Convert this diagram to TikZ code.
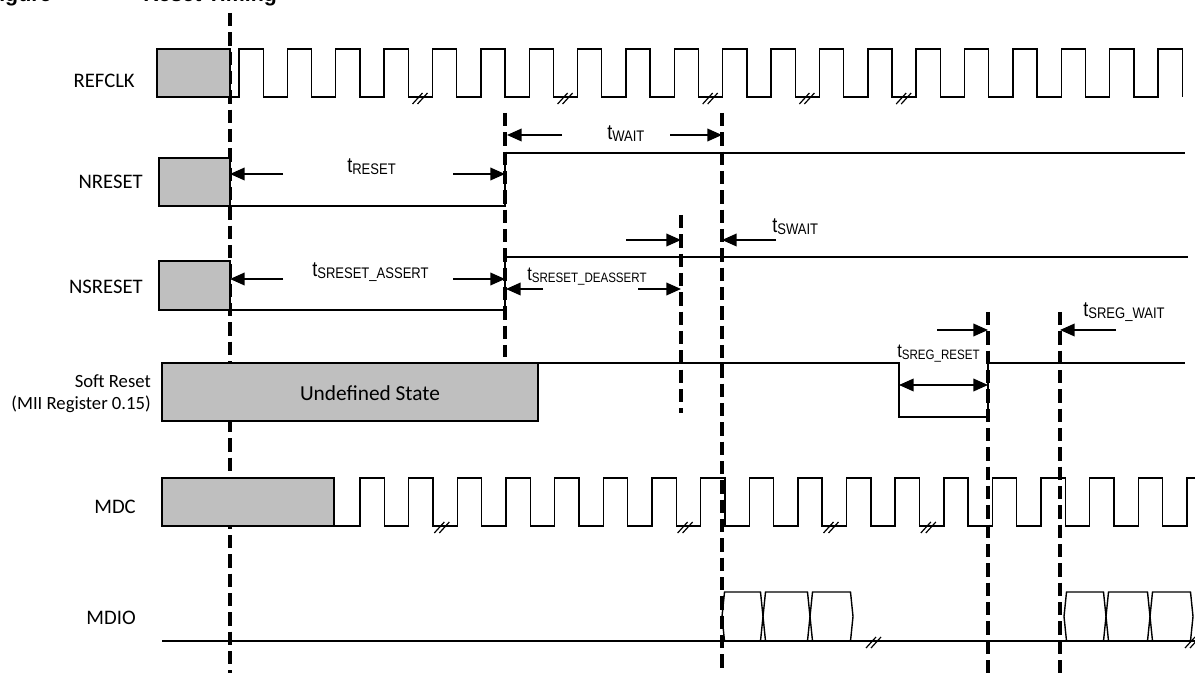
\documentclass[tikz,border=0pt]{standalone}
\usepackage{fontspec}
\usepackage{tikz}
\usetikzlibrary{arrows.meta}
\newfontfamily\lblfont{Carlito}
\newfontfamily\tfont[FakeStretch=0.85]{Liberation Sans}
\newfontfamily\ttlfont{Liberation Sans}

% timing parameter label: big t with lowered small text (sizes in pt)
\newcommand{\tlab}[3]{{\tfont\fontsize{#1}{#1}\selectfont t\raisebox{-1pt}{\fontsize{#2}{#2}\selectfont #3}}}
% break mark on a waveform
\newcommand{\tdbreak}[2]{\draw[line width=0.9pt] ({#1-8},{#2+6}) -- ({#1+2},{#2-5}) ({#1-3},{#2+6}) -- ({#1+7},{#2-5});}
% one MDIO data cell
\newcommand{\tdcell}[2]{\draw[sig] (#1,616.5) -- ({#1+2.5},592) -- ({#2-2.5},592) -- (#2,616.5) -- ({#2-2.5},641) -- ({#1+2.5},641) -- cycle;}

\tikzset{
  sig/.style={line width=1.05pt},
  graybox/.style={line width=1.05pt, fill=black!25},
  tline/.style={line width=2.3pt, dash pattern=on 10pt off 4.5pt},
  tarrow/.style={line width=1.2pt, -{Triangle[length=11pt,width=9.5pt]}},
  tboth/.style={line width=1.2pt, {Triangle[length=11pt,width=9.5pt]}-{Triangle[length=11pt,width=9.5pt]}},
  signame/.style={font=\lblfont\fontsize{15.5}{16}\selectfont, anchor=east, inner sep=0pt},
  tname/.style={anchor=base west, inner sep=0pt},
}

\begin{document}
\begin{tikzpicture}[x=0.75pt, y=-0.75pt]
    \useasboundingbox (0,0) rectangle (1195,673);

    % Title, cut by the top edge
    \node[tname, font=\ttlfont\bfseries\fontsize{16}{16}\selectfont] (ttlfig) at (-14,2) {Figure};
    \node[tname, font=\ttlfont\bfseries\fontsize{16}{16}\selectfont] (ttlname) at (143,2) {Reset Timing};

    % Timing markers
    \draw[tline] (230,13) -- (230,673);
    \draw[tline] (505,113) -- (505,357);
    \draw[tline] (681,215) -- (681,413);
    \draw[tline] (722,113) -- (722,673);
    \draw[tline] (988,312) -- (988,673);
    \draw[tline] (1060,312) -- (1060,673);

    % Signal names
    \node[signame] (nrefclk) at (135,81) {REFCLK};
    \node[signame] (nnreset) at (143,182) {NRESET};
    \node[signame] (nnsreset) at (143,287) {NSRESET};
    \node[signame, font=\lblfont\fontsize{14}{16.5}\selectfont, align=right] (nsoft) at (151,394) {Soft Reset\\(MII Register 0.15)};
    \node[signame] (nmdc) at (136,507) {MDC};
    \node[signame] (nmdio) at (136,618) {MDIO};

    % REFCLK
    \draw[graybox] (157,49) rectangle (230,97);
    \draw[sig] (230,97) \foreach \k in {0,...,19}{ -- ({239+\k*48.37},97) -- ++(0,-48) -- ++(24.2,0) -- ++(0,48) };
    \foreach \c in {432.5,577.6,722.7,819.4,916.2} {\tdbreak{\c-12}{98}}

    % NRESET
    \draw[graybox] (159,158) rectangle (230,206);
    \draw[sig] (230,206) -- (505,206) -- (505,153) -- (1185,153);
    \draw[tarrow] (283,174) -- (230,174);
    \draw[tarrow] (453,174) -- (505,174);
    \node[tname] (lreset) at (347,173) {\tlab{16}{11.5}{RESET}};
    \draw[tarrow] (562,135) -- (507,135);
    \draw[tarrow] (670,135) -- (722,135);
    \node[tname] (lwait) at (607,140) {\tlab{16}{11.5}{WAIT}};

    % NSRESET
    \draw[graybox] (159,261) rectangle (230,310);
    \draw[sig] (230,310) -- (505,310) -- (505,257) -- (1188,257);
    \draw[tarrow] (283,279) -- (230,279);
    \draw[tarrow] (453,279) -- (505,279);
    \node[tname] (lsassert) at (312,277) {\tlab{16}{11.5}{SRESET\_ASSERT}};
    \draw[tarrow] (543,289) -- (506,289);
    \draw[tarrow] (638,289) -- (681,289);
    \node[tname] (lsdeassert) at (527,281) {\tlab{14.5}{10.2}{SRESET\_DEASSERT}};
    \draw[tarrow] (626,240) -- (681,240);
    \draw[tarrow] (776,240) -- (722,240);
    \node[tname] (lswait) at (772,233) {\tlab{16}{11.5}{SWAIT}};

    % Soft reset bit
    \draw[graybox] (162,363) rectangle (538,421);
    \node[font=\lblfont\fontsize{16}{16}\selectfont] (undef) at (370,393) {Undefined State};
    \draw[sig] (538,363) -- (899,363) -- (899,417) -- (988,417) -- (988,363) -- (1185,363);
    \draw[tarrow] (937,330) -- (988,330);
    \draw[tboth] (899,385) -- (988,385);
    \node[tname] (lsregreset) at (897,358) {\tlab{14.5}{10.2}{SREG\_RESET}};
    \draw[tarrow] (1116,330) -- (1060,330);
    \node[tname] (lsregwait) at (1083,317) {\tlab{16}{11.5}{SREG\_WAIT}};

    % MDC
    \draw[graybox] (162,478) rectangle (334,526);
    \draw[sig] (334,526) \foreach \k in {0,...,16}{ -- ({360+\k*48.65},526) -- ++(0,-48) -- ++(24.3,0) -- ++(0,48) } -- (1187,526) -- (1187,478) -- (1195,478);
    \foreach \c in {457.3,700.6,846.5,943.8} {\tdbreak{\c-15}{527}}

    % MDIO
    \draw[sig] (162,641) -- (1195,641);
    \tdcell{722}{763} \tdcell{763}{810} \tdcell{810}{853}
    \tdcell{1064}{1106} \tdcell{1106}{1150} \tdcell{1150}{1193}
    \tdbreak{874}{642}
    \tdbreak{1193}{642}
\end{tikzpicture}
\end{document}
